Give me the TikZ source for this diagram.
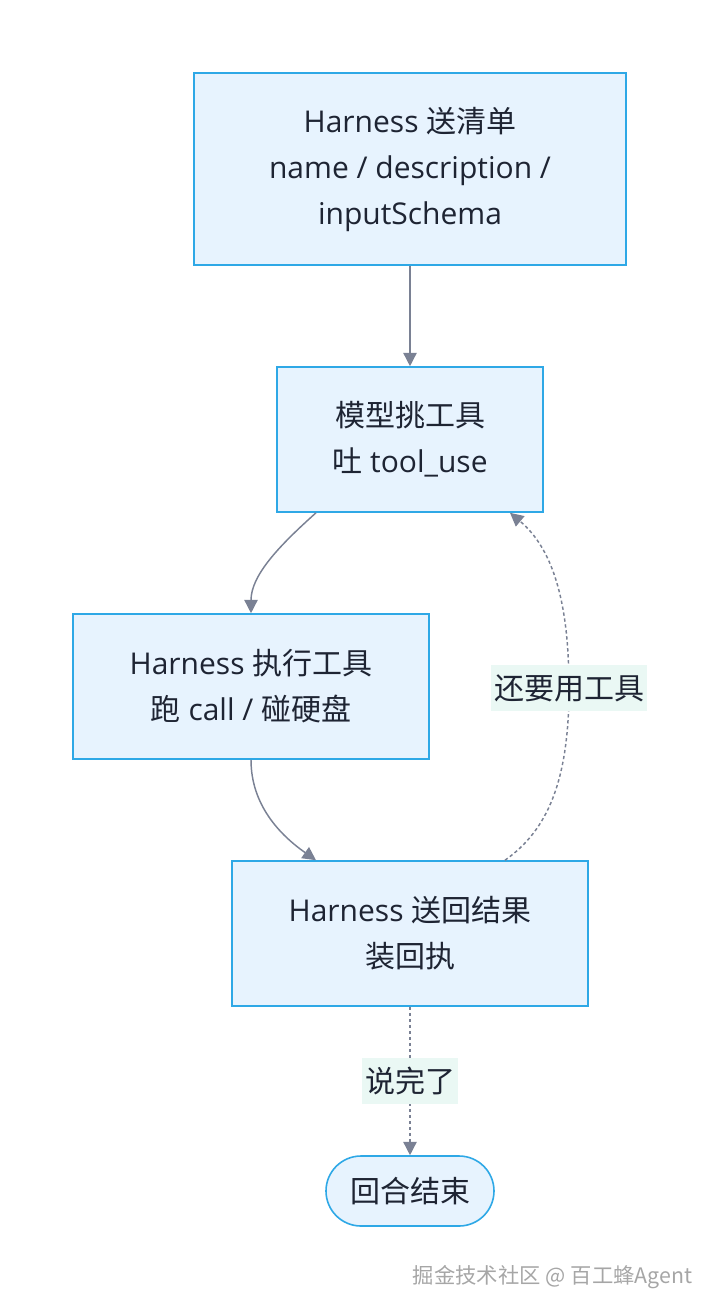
\documentclass[tikz,border=0pt]{standalone}
\usepackage{fontspec}
\setmainfont{Open Sans}
\newfontfamily\cjk{Noto Sans CJK SC}
\usetikzlibrary{arrows.meta}
\definecolor{boxfill}{HTML}{E7F3FE}
\definecolor{boxline}{HTML}{2EA8E6}
\definecolor{flowline}{HTML}{7A8194}
\definecolor{tagfill}{HTML}{EAF8F4}
\definecolor{inktext}{HTML}{1E2433}
\tikzset{
  stepbox/.style={draw=boxline, fill=boxfill, line width=1.2pt, align=center,
    text=inktext, inner sep=0pt, font=\fontsize{22.5pt}{34.5pt}\selectfont},
  flow/.style={draw=flowline, line width=1.1pt, -{Triangle[length=10pt,width=10pt]}},
  loopflow/.style={flow, dash pattern=on 2.5pt off 2pt},
  tag/.style={fill=tagfill, text=inktext, inner xsep=2pt, inner ysep=0pt,
    minimum height=34pt, font=\cjk\fontsize{22.5pt}{34.5pt}\selectfont}
}
\begin{document}
\begin{tikzpicture}[x=0.75pt,y=-0.75pt]
\useasboundingbox (0,0) rectangle (720,1314);

\node[stepbox, minimum width=324pt, minimum height=144pt] (list) at (410,169)
  {Harness {\cjk 送清单}\\name / description /\\inputSchema};
\node[stepbox, minimum width=199.5pt, minimum height=108.75pt] (pick) at (410,439.5)
  {{\cjk 模型挑工具}\\{\cjk 吐} tool\_use};
\node[stepbox, minimum width=267pt, minimum height=108.75pt] (exec) at (251,686.5)
  {Harness {\cjk 执行工具}\\{\cjk 跑} call / {\cjk 碰硬盘}};
\node[stepbox, minimum width=267pt, minimum height=108.75pt] (back) at (410,933.5)
  {Harness {\cjk 送回结果}\\{\cjk 装回执}};
\node[stepbox, rounded corners=26.25pt, minimum width=126pt, minimum height=52.5pt,
  font=\cjk\fontsize{22.5pt}{34.5pt}\selectfont] (done) at (410,1191) {回合结束};

% main flow
\draw[flow] (list.south) -- (pick.north);
\draw[flow] ([xshift=-70.5pt]pick.south) .. controls (280,545) and (251,575) .. (exec.north);
\draw[flow] (exec.south) .. controls (251,805) and (280,835) .. ([xshift=-70.5pt]back.north);

% loop back and exit
\draw[loopflow] ([xshift=71.25pt]back.north) .. controls (548,830) and (569,780) .. (569,688)
  node[tag] (again) {还要用工具}
  .. controls (569,600) and (552,548) .. ([xshift=75pt]pick.south);
\draw[loopflow] (back.south) -- node[tag] (said) {说完了} (done.north);

\node[anchor=east, text=black!35, font=\cjk\fontsize{16pt}{18pt}\selectfont] (mark) at (697,1277)
  {掘金技术社区 @ 百工蜂Agent};
\end{tikzpicture}
\end{document}
